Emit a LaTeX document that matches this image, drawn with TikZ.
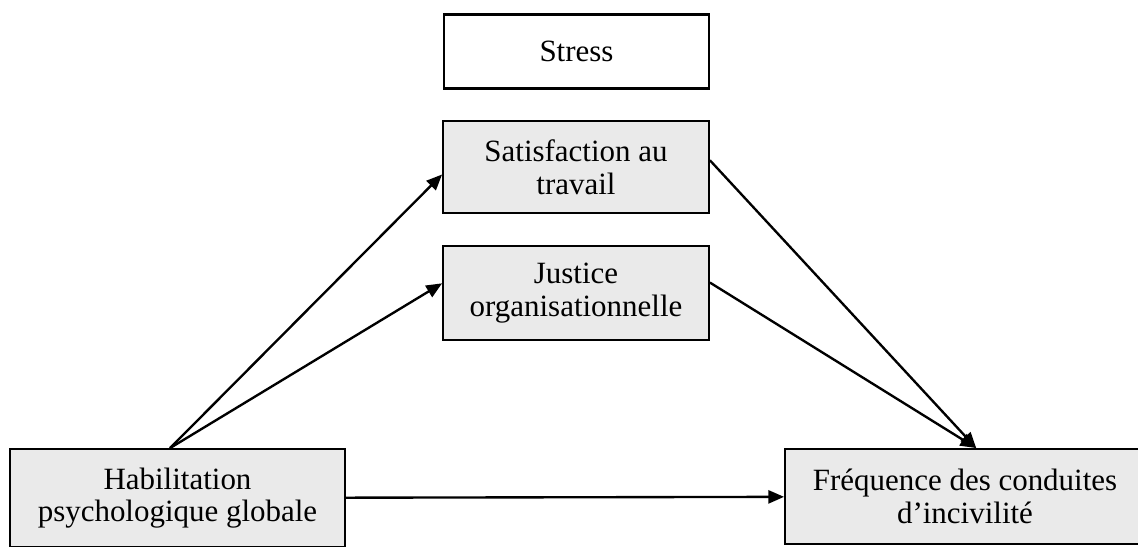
\documentclass[tikz,border=0pt]{standalone}
\usepackage{fontspec}
\setmainfont{Liberation Serif}
\usetikzlibrary{arrows.meta,positioning}

\tikzset{
  var/.style={draw, line width=0.8pt, fill=boxgray, align=center, inner sep=0pt,
    font=\fontsize{11.8}{12.4}\selectfont},
  link/.style={line width=0.9pt, -{Triangle[length=6pt,width=5pt]}}
}
\definecolor{boxgray}{HTML}{EAEAEA}

\begin{document}
\begin{tikzpicture}[x=0.0134cm, y=-0.0134cm]
    \useasboundingbox (0, 0) rectangle (1138, 546);

    \node[var, fill=white, line width=1.1pt, minimum width=3.55cm, minimum height=1.0cm] (stress) at (576.5, 51.5) {Stress};
    \node[var, minimum width=3.56cm, minimum height=1.23cm] (satis) at (576, 167) {Satisfaction au\\travail};
    \node[var, minimum width=3.56cm, minimum height=1.27cm] (justice) at (576, 293) {Justice\\organisationnelle};

    \node[var, minimum width=4.49cm, minimum height=1.31cm] (habil) at (177.5, 498) {Habilitation\\psychologique globale};
    \node[var, minimum width=4.82cm, minimum height=1.27cm] (freq) at (965, 496.5) {Fréquence des conduites\\d’incivilité};

    \coordinate (top) at ([xshift=0.15cm]freq.north);

    \draw[link] ([xshift=-0.1cm]habil.north) -- ([yshift=-0.1cm]satis.west);
    \draw[link] ([xshift=-0.1cm]habil.north) -- ([yshift=0.13cm]justice.west);
    \draw[link] ([yshift=0.09cm]satis.east) -- (top);
    \draw[link] ([yshift=0.14cm]justice.east) -- (top);
    \draw[link] (habil) -- (freq);
\end{tikzpicture}
\end{document}
